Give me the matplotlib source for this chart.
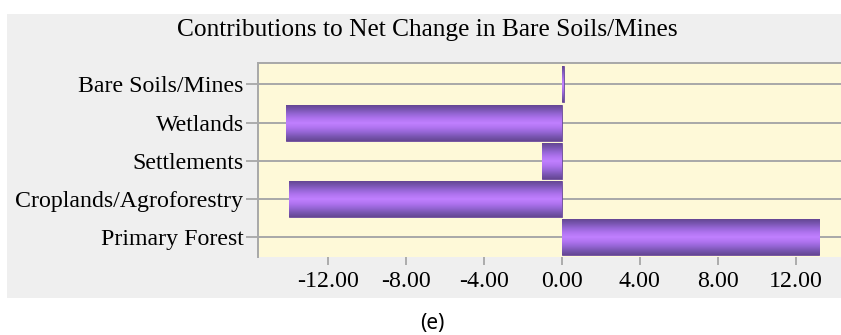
import numpy as np
import matplotlib
matplotlib.use("Agg")
import matplotlib.pyplot as plt
from matplotlib.colors import LinearSegmentedColormap
from matplotlib.patches import Rectangle

plt.rcParams['axes.unicode_minus'] = False

categories = ["Primary Forest", "Croplands/Agroforestry", "Settlements", "Wetlands", "Bare Soils/Mines"]
values = [13.2, -13.97, -1.0, -14.14, 0.1]
xticks = [-12, -8, -4, 0, 4, 8, 12]
title = "Contributions to Net Change in Bare Soils/Mines"
caption = "(e)"

fig = plt.figure(figsize=(8.41, 3.35), dpi=100)
fig.patch.set_facecolor("white")
fig.patches.append(Rectangle((7/841, 1-297.7/335), 1-7/841, (297.7-14)/335,
                             transform=fig.transFigure, facecolor="#efefef",
                             edgecolor="none", zorder=-10))

ax = fig.add_axes([257.5/841, 1-257.2/335, 1-257.5/841, (257.2-63.3)/335])
ax.set_zorder(1)
ax.set_facecolor("#fef9d8")
ypos = np.arange(len(categories))

for y in ypos:
    ax.axhline(y, color="#a8a8a8", lw=1.4, zorder=1)

bars = ax.barh(ypos, values, height=0.94, color="#9a66dd", edgecolor="#6a4a98",
               lw=0.6, zorder=2)

cmap = LinearSegmentedColormap.from_list("purp", ["#644692", "#7a56b2", "#9666d6", "#b074f0",
                                                   "#c080ff", "#b074f0", "#9666d6", "#7a56b2",
                                                   "#644692"])
grad = np.linspace(0, 1, 256).reshape(-1, 1)
for b in bars:
    x0, y0 = b.get_x(), b.get_y()
    w, h = b.get_width(), b.get_height()
    im = ax.imshow(grad, cmap=cmap, aspect="auto",
                   extent=[x0, x0 + w, y0, y0 + h], origin="lower", zorder=3)
    im.set_clip_path(b)
ax.set_xlim(-15.6, 14.33)
ax.set_ylim(-0.52, 4.55)

ax.set_yticks(ypos)
ax.set_yticklabels(categories)
ax.set_xticks(xticks)
ax.set_xticklabels([f"{v:.2f}" for v in xticks])

for lab in ax.get_xticklabels() + ax.get_yticklabels():
    lab.set_fontfamily("Liberation Serif")
    lab.set_fontsize(17.2)
    lab.set_color("black")

ax.tick_params(axis="y", length=9, width=1.2, color="#a0a0a0", pad=1)
ax.tick_params(axis="x", length=6, width=1.2, color="#a0a0a0", pad=4)

for s in ["bottom", "right"]:
    ax.spines[s].set_visible(False)
for s in ["top", "left"]:
    ax.spines[s].set_color("#a8a8a8")
    ax.spines[s].set_linewidth(1.4)

fig.text(427/841, 1-30/335, title, ha="center", va="center",
         fontfamily="Liberation Serif", fontsize=18.3, color="black")
fig.text(432/841, 1-324/335, caption, ha="center", va="center",
         fontfamily="Noto Sans", fontsize=15, color="black")

fig.savefig("out.png", dpi=100, facecolor="white")
